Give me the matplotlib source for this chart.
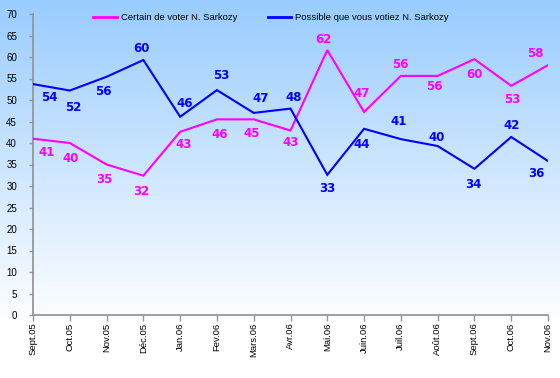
import numpy as np
import matplotlib
matplotlib.use("Agg")
import matplotlib.pyplot as plt
from matplotlib.lines import Line2D

months = ["Sept.05", "Oct.05", "Nov.05", "Déc.05", "Jan.06", "Fev.06", "Mars.06",
          "Avr.06", "Mai.06", "Juin.06", "Juil.06", "Août.06", "Sept.06", "Oct.06", "Nov.06"]

certain_values = [41.0, 40.0, 35.0, 32.4, 42.6, 45.5, 45.5, 42.9, 61.6, 47.2, 55.6, 55.6, 59.5, 53.3, 58.1]
certain_labels = [41, 40, 35, 32, 43, 46, 45, 43, 62, 47, 56, 56, 60, 53, 58]

possible_values = [53.7, 52.2, 55.4, 59.3, 46.1, 52.3, 47.0, 48.0, 32.6, 43.3, 40.9, 39.3, 34.0, 41.4, 35.8]
possible_labels = [54, 52, 56, 60, 46, 53, 47, 48, 33, 44, 41, 40, 34, 42, 36]

series_names = ["Certain de voter N. Sarkozy", "Possible que vous votiez N. Sarkozy"]

# label placement offsets in pixels (dx, dy down)
certain_offsets = [(14, 14), (1, 15), (-2, 15), (-2, 16), (3, 13), (3, 15), (-2, 14), (0, 12),
                   (-4, -11), (-2, -19), (-1, -11), (-3, 11), (0, 15), (1, 14), (-13, -12)]
possible_offsets = [(16, 13), (3, 17), (-3, 15), (-2, -12), (5, -13), (4, -15), (7, -14), (3, -11),
                    (0, 14), (-2, 16), (-2, -18), (-1, -9), (-1, 16), (0, -11), (-12, 12)]

PINK = "#FF00FF"
BLUE = "#0000FF"
GREY = "#969696"

W, H = 560, 378
fig = plt.figure(figsize=(W / 100, H / 100), dpi=100)

# background gradient
bg = fig.add_axes([0, 0, 1, 1], zorder=-10)
top = np.array([153, 204, 255]) / 255.0
white = np.array([1.0, 1.0, 1.0])
rows = np.arange(H)
t = np.clip(rows / 325.0, 0, 1)[:, None]
grad = top[None, :] * (1 - t) + white[None, :] * t
img = np.repeat(grad[:, None, :], 2, axis=1)
bg.imshow(img, aspect="auto", extent=[0, 1, 0, 1], origin="upper")
bg.axis("off")

ax = fig.add_axes([33 / W, 1 - 315 / H, (548 - 33) / W, (315 - 14) / H])
ax.set_facecolor("none")

x = np.arange(len(months))
ax.plot(x, certain_values, color=PINK, lw=1.5, solid_joinstyle="miter", zorder=3)
ax.plot(x, possible_values, color=BLUE, lw=1.5, solid_joinstyle="miter", zorder=3)

for xi, v, lab, (dx, dy) in zip(x, certain_values, certain_labels, certain_offsets):
    ax.annotate(str(lab), (xi, v), xytext=(dx, -dy), textcoords="offset pixels",
                ha="center", va="center", color=PINK, fontsize=8.5,
                fontweight="bold", family="DejaVu Sans", zorder=4, annotation_clip=False)
for xi, v, lab, (dx, dy) in zip(x, possible_values, possible_labels, possible_offsets):
    ax.annotate(str(lab), (xi, v), xytext=(dx, -dy), textcoords="offset pixels",
                ha="center", va="center", color=BLUE, fontsize=8.5,
                fontweight="bold", family="DejaVu Sans", zorder=4, annotation_clip=False)

ax.set_xlim(0, len(months) - 1)
ax.set_ylim(0, 70)
ax.set_yticks(np.arange(0, 71, 5))
ax.set_xticks(x)
ax.set_xticklabels(months, rotation=90, fontsize=6.8, family="Liberation Sans")
for lab in ax.get_yticklabels():
    lab.set_family("Liberation Sans")
    lab.set_fontsize(7)

for s in ["top", "right"]:
    ax.spines[s].set_visible(False)
for s in ["left", "bottom"]:
    ax.spines[s].set_color(GREY)
    ax.spines[s].set_linewidth(1.3)
ax.tick_params(axis="y", direction="out", length=3, width=1, color=GREY, pad=8.5)
ax.tick_params(axis="x", direction="out", length=4, width=1, color=GREY, pad=1.5)

handles = [Line2D([], [], color=PINK, lw=2), Line2D([], [], color=BLUE, lw=2)]
fig.legend(handles, series_names, loc="center", bbox_to_anchor=(271 / W, 1 - 18 / H),
           ncol=2, frameon=False, prop={"family": "Liberation Sans", "size": 6.8},
           handlelength=2.5, handletextpad=0.45, columnspacing=3.2, borderpad=0)

fig.savefig("out.png", dpi=100)
